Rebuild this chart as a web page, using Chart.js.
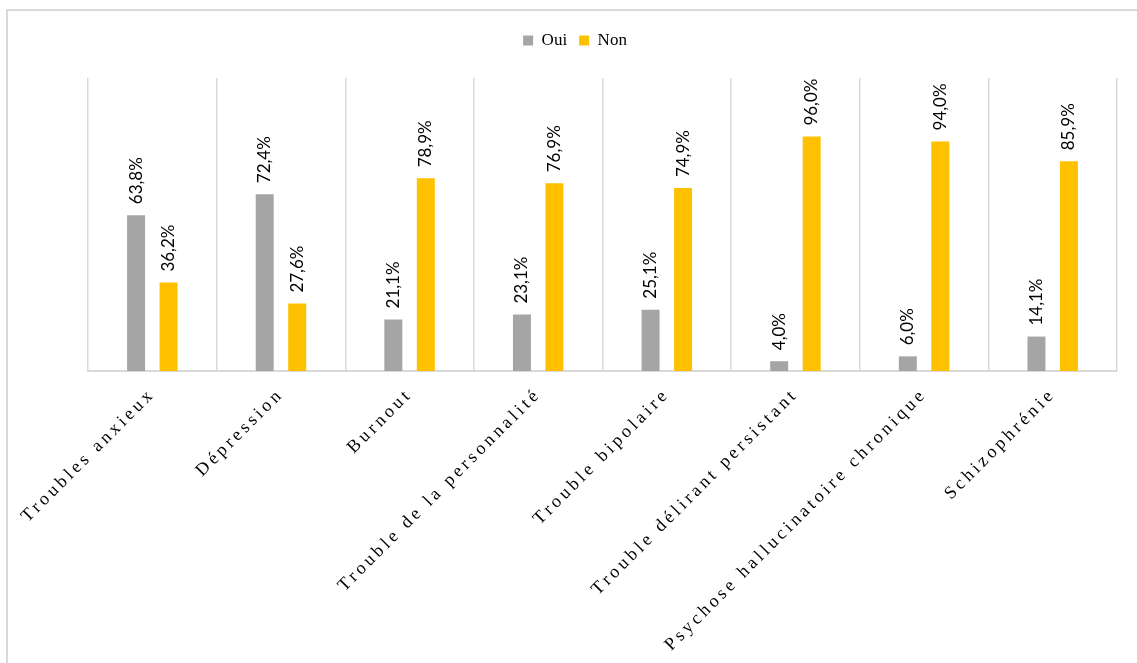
<!DOCTYPE html>
<html>
<head>
<meta charset="utf-8">
<script src="https://cdn.jsdelivr.net/npm/chart.js@4.4.1/dist/chart.umd.min.js"></script>
<style>
  html, body { margin: 0; padding: 0; background: #ffffff; overflow: hidden; }
  #frame { position: absolute; left: 6px; top: 9px; width: 1200px; height: 700px; border-top: 2px solid #d9d9d9; border-left: 2px solid #d9d9d9; }
  #wrap { position: absolute; left: 0; top: 0; width: 1137px; height: 663px; }
</style>
</head>
<body>
<div id="frame"></div>
<div id="wrap"><canvas id="c" width="1137" height="663"></canvas></div>
<script>
const categories = [
  "Troubles anxieux",
  "Dépression",
  "Burnout",
  "Trouble de la personnalité",
  "Trouble bipolaire",
  "Trouble délirant persistant",
  "Psychose hallucinatoire chronique",
  "Schizophrénie"
];
const seriesNames = ["Oui", "Non"];
const ouiValues = [63.8, 72.4, 21.1, 23.1, 25.1, 4.0, 6.0, 14.1];
const nonValues = [36.2, 27.6, 78.9, 76.9, 74.9, 96.0, 94.0, 85.9];
const seriesColors = ["#a5a5a5", "#ffc000"];

const serif = "'Liberation Serif', 'Times New Roman', serif";
const labelFont = "Lato, 'Open Sans', sans-serif";

const legendGap = {
  id: 'legendGap',
  beforeLayout(chart) {
    const lg = chart.legend;
    if (lg && !lg._gapWrapped) {
      const f = lg.fit.bind(lg);
      lg.fit = function () { f(); this.height += 19; };
      lg._gapWrapped = true;
    }
  }
};

const valueLabels = {
  id: 'valueLabels',
  afterDatasetsDraw(chart) {
    const ctx = chart.ctx;
    ctx.save();
    ctx.letterSpacing = '0px';
    ctx.font = "17px " + labelFont;
    ctx.fillStyle = '#000000';
    ctx.textAlign = 'left';
    ctx.textBaseline = 'middle';
    chart.data.datasets.forEach((ds, di) => {
      const meta = chart.getDatasetMeta(di);
      meta.data.forEach((bar, i) => {
        const txt = ds.data[i].toFixed(1).replace('.', ',') + '%';
        ctx.save();
        ctx.translate(bar.x, bar.y - 11);
        ctx.rotate(-Math.PI / 2);
        ctx.fillText(txt, 0, 0);
        ctx.restore();
      });
    });
    ctx.restore();
    // spaced lettering for the category labels, drawn after this hook
    ctx.letterSpacing = '3.5px';
  },
  afterDraw(chart) {
    chart.ctx.letterSpacing = '0px';
  }
};

new Chart(document.getElementById('c'), {
  type: 'bar',
  data: {
    labels: categories,
    datasets: [
      { label: seriesNames[0], data: ouiValues, backgroundColor: seriesColors[0], borderWidth: 0 },
      { label: seriesNames[1], data: nonValues, backgroundColor: seriesColors[1], borderWidth: 0 }
    ]
  },
  plugins: [legendGap, valueLabels],
  options: {
    responsive: false,
    animation: false,
    categoryPercentage: 0.505,
    barPercentage: 0.554,
    layout: { padding: { left: 33, right: 20, top: 20, bottom: 0 } },
    plugins: {
      tooltip: { enabled: false },
      legend: {
        position: 'top',
        labels: {
          boxWidth: 10, boxHeight: 10,
          color: '#000000',
          font: { family: serif, size: 17 },
          padding: 12
        }
      }
    },
    scales: {
      x: {
        offset: true,
        grid: { display: true, offset: true, color: '#d9d9d9', lineWidth: 1.5, drawTicks: false },
        border: { display: true, color: '#d9d9d9', width: 2 },
        ticks: {
          z: 1,
          autoSkip: false,
          maxRotation: 45, minRotation: 45,
          padding: 13,
          color: '#000000',
          font: { family: serif, size: 18 }
        },
        afterFit(scale) { scale.height = 292; }
      },
      y: {
        display: true,
        min: 0, max: 120,
        grid: { display: false },
        border: { display: false },
        ticks: { display: false },
        afterFit(scale) { scale.width = 55; }
      }
    }
  }
});
</script>
</body>
</html>
